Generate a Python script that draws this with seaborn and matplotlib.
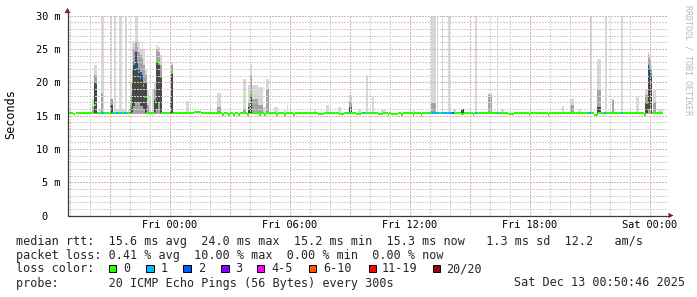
import numpy as np
import pandas as pd
import seaborn as sns
import matplotlib
matplotlib.use("Agg")
import matplotlib.pyplot as plt
from matplotlib.patches import Polygon, Rectangle

# ---------------- data (hours relative to Fri 00:00) ----------------
data_start, data_end = -5.10, 24.685
baseline_median = 15.35
smoke_floor = 15.2

# median overrides: start, end, value (ms), loss count category
med_t0 = [-4.85, -3.78, -3.69, -3.45, -2.95, -2.865, -2.70, -2.50, -2.30,
          -1.975, -1.90, -1.815, -1.735, -1.66, -1.58, -1.50, -1.42, -1.34, -1.26,
          -0.75, -0.665, -0.58, -0.495, 0.015, 0.08, 1.20,
          2.60, 2.90, 3.15, 3.40, 3.85, 3.95, 4.025, 4.45, 4.70, 5.30, 5.70, 6.15,
          7.40, 8.45, 8.95, 9.30, 9.68, 10.40, 10.90, 11.05, 11.55, 12.15, 12.55,
          13.05, 13.55, 14.10, 14.55, 15.15, 15.28, 16.35, 16.90, 17.95, 18.90,
          20.90, 21.20, 21.70, 22.55, 23.70, 23.80, 23.915, 24.01]
med_t1 = [-4.70, -3.69, -3.61, -3.30, -2.865, -2.80, -2.55, -2.40, -2.15,
          -1.90, -1.815, -1.735, -1.66, -1.58, -1.50, -1.42, -1.34, -1.26, -1.18,
          -0.665, -0.58, -0.495, -0.41, 0.08, 0.175, 1.55,
          2.70, 3.00, 3.25, 3.50, 3.95, 4.025, 4.10, 4.55, 4.80, 5.40, 5.80, 6.25,
          7.70, 8.70, 9.03, 9.55, 9.75, 10.65, 10.95, 11.40, 11.65, 12.20, 12.60,
          13.45, 14.10, 14.20, 14.70, 15.20, 15.35, 16.43, 17.20, 18.00, 18.95,
          21.05, 21.40, 21.80, 22.65, 23.80, 23.915, 24.01, 24.10]
med_val = [15.2, 16.6, 19.85, 15.35, 16.0, 15.35, 15.35, 15.35, 15.35,
           16.35, 20.25, 22.75, 24.0, 22.0, 21.5, 20.6, 20.85, 19.5, 17.75,
           17.25, 23.0, 22.75, 20.75, 17.15, 21.35, 15.5,
           15.15, 15.15, 15.15, 15.15, 15.15, 16.0, 18.0, 15.15, 15.15, 15.15, 15.15, 15.15,
           15.2, 15.2, 15.35, 15.2, 15.35, 15.2, 15.15, 15.2, 15.15, 15.15, 15.15,
           15.35, 15.35, 15.35, 15.2, 15.15, 15.35, 15.35, 15.2, 15.15, 15.15,
           15.35, 15.05, 15.35, 15.35, 15.15, 16.85, 22.0, 21.0]
med_loss = [0, 0, 0, 1, 1, 1, 1, 1, 1,
            0, 0, 1, 2, 1, 1, 1, 2, 0, 0,
            0, 0, 0, 0, 0, 0, 0,
            0, 0, 0, 0, 0, 0, 0, 0, 0, 0, 0, 0,
            0, 0, 1, 0, 1, 0, 0, 0, 0, 0, 0,
            1, 1, 2, 0, 0, 1, 1, 0, 0, 0,
            1, 0, 1, 1, 0, 0, 1, 1]

# single outlier pings reaching beyond the top of the graph
tall_t0 = [-3.43, -2.95, -2.78, -2.53, -2.25, 13.05, 13.35, 13.60, 13.93, 15.28, 16.35, 21.00, 21.78, 22.58]
tall_t1 = [-3.30, -2.88, -2.68, -2.40, -2.15, 13.33, 13.43, 13.68, 14.03, 15.35, 16.43, 21.10, 21.88, 22.68]
tall_top = 30.5

# low smoke bumps: start, end, mid-grey top, light-grey top (0 = none)
low_t0 = [-3.90, -3.55, -3.45, -2.68, -2.40, -2.10, -1.15, -1.05, -0.90, 0.80, 2.35, 3.65,
          4.125, 4.40, 4.65, 4.80, 5.20, 5.70, 5.85, 7.20, 7.80, 8.40, 9.40, 9.80, 10.10,
          10.55, 12.15, 13.05, 14.15, 15.925, 16.55, 19.60, 20.00, 20.40, 22.10, 23.30,
          24.175, 24.40]
low_t1 = [-3.80, -3.45, -3.35, -2.53, -2.25, -2.00, -1.05, -0.95, -0.80, 0.95, 2.55, 3.80,
          4.40, 4.65, 4.80, 4.975, 5.40, 5.80, 5.925, 7.30, 7.95, 8.55, 9.55, 9.90, 10.20,
          10.80, 12.25, 13.33, 14.30, 16.10, 16.70, 19.70, 20.20, 20.55, 22.20, 23.45,
          24.30, 24.65]
low_mid = [16.3, 0, 18.3, 0, 0, 0, 16.5, 0, 0, 0, 16.3, 16.0,
           17.5, 16.5, 0, 19.0, 0, 0, 0, 0, 0, 0, 0, 0, 0,
           0, 0, 16.8, 0, 18.0, 0, 0, 16.5, 0, 17.25, 0,
           17.0, 0]
low_max = [17.5, 15.9, 18.3, 16.0, 16.0, 16.0, 18.75, 17.7, 18.75, 17.1, 18.3, 20.5,
           19.5, 19.2, 16.3, 20.5, 16.2, 16.0, 16.5, 16.0, 16.5, 16.3, 16.0, 21.0, 17.75,
           15.8, 15.8, 16.8, 16.0, 18.3, 15.9, 16.4, 17.5, 15.9, 17.5, 17.75,
           18.75, 15.9]

# smoke around elevated medians: start, end, dark low, dark high, mid top, light top
spk_t0 = [-3.78, -2.98, -2.00, -1.90, -1.815, -1.735, -1.65, -1.565, -1.485, -1.40, -1.315, -1.235,
          -0.775, -0.675, -0.575, -0.475, 0.01, 0.075, 3.925, 4.025, 8.95, 14.55, 21.375,
          23.775, 23.90, 23.985, 24.065]
spk_t1 = [-3.63, -2.85, -1.90, -1.815, -1.735, -1.65, -1.565, -1.485, -1.40, -1.315, -1.235, -1.15,
          -0.675, -0.575, -0.475, -0.385, 0.075, 0.19, 4.025, 4.125, 9.10, 14.70, 21.575,
          23.90, 23.985, 24.065, 24.125]
spk_dlo = [15.3, 15.3, 15.3, 15.5, 16.5, 17.0, 17.0, 17.0, 16.5, 16.5, 16.0, 15.3,
           15.3, 16.0, 17.0, 15.3, 15.3, 15.3, 15.3, 15.3, 15.3, 15.3, 15.3,
           15.3, 16.0, 16.0, 15.3]
spk_dhi = [19.85, 16.5, 16.4, 20.3, 23.0, 24.5, 23.0, 22.0, 21.5, 21.0, 20.0, 19.8,
           17.3, 23.2, 22.8, 20.8, 17.2, 21.5, 16.2, 18.0, 16.2, 15.9, 16.25,
           16.8, 22.5, 22.0, 21.0]
spk_mid = [21.0, 17.5, 18.0, 22.0, 25.0, 26.0, 25.3, 24.5, 24.0, 23.5, 22.5, 21.0,
           19.0, 24.8, 24.5, 22.5, 18.0, 22.5, 17.0, 21.0, 17.0, 15.9, 18.75,
           18.0, 24.0, 23.5, 22.0]
spk_max = [22.5, 17.5, 20.0, 26.0, 26.2, 30.5, 30.5, 26.2, 25.0, 26.0, 25.0, 22.0,
           20.0, 25.5, 25.3, 24.0, 20.0, 23.0, 19.5, 22.7, 18.0, 15.9, 23.4,
           19.0, 24.5, 24.0, 22.5]

loss_labels = ["0", "1", "2", "3", "4-5", "6-10", "11-19", "20/20"]
loss_colors = ["#26ff00", "#00b8ff", "#0059ff", "#7e00ff", "#ff00ff", "#ff5500", "#ff0000", "#a10000"]

x_tick_hours = [0, 6, 12, 18, 24]
x_tick_labels = ["Fri 00:00", "Fri 06:00", "Fri 12:00", "Fri 18:00", "Sat 00:00"]
y_ticks = [0, 5, 10, 15, 20, 25, 30]
y_tick_labels = ["0  ", "5 m", "10 m", "15 m", "20 m", "25 m", "30 m"]

legend_row1 = "median rtt:  15.6 ms avg  24.0 ms max  15.2 ms min  15.3 ms now   1.3 ms sd  12.2   am/s"
legend_row2 = "packet loss: 0.41 % avg  10.00 % max  0.00 % min  0.00 % now"
legend_row4 = "probe:       20 ICMP Echo Pings (56 Bytes) every 300s"
stamp = "Sat Dec 13 00:50:46 2025"

# ---------------- style ----------------
W, H = 697, 297
sns.set_theme(style="white")
plt.rcParams['font.family'] = ['DejaVu Sans Mono', 'DejaVu Sans']
MONO = 'DejaVu Sans Mono'

LIGHT, MID, DARK = "#d8d8d8", "#a4a4a4", "#484848"
AXIS_C, ARROW_C = "#3a3a3a", "#8a1f1f"
MGRID_C, GRID_C = "#deb2b2", "#d0d0d0"

fig = plt.figure(figsize=(W / 100, H / 100), dpi=100)
fig.patch.set_facecolor("white")
ax = fig.add_axes([67.5 / W, (H - 215.5) / H, 600 / W, 200 / H])
ax.set_facecolor("white")
ax.set_xlim(-5.1, 24.9)
ax.set_ylim(0, 30)
for s in ax.spines.values():
    s.set_visible(False)


def bars(t0, t1, lo, hi, color, z):
    t0 = np.asarray(t0, float)
    t1 = np.asarray(t1, float)
    lo = np.broadcast_to(np.asarray(lo, float), t0.shape)
    hi = np.broadcast_to(np.asarray(hi, float), t0.shape)
    ax.bar(x=t0, height=hi - lo, width=t1 - t0, bottom=lo, align="edge",
           color=color, linewidth=0, zorder=z)


# smoke
bars(tall_t0, tall_t1, smoke_floor, tall_top, LIGHT, 1)

low = pd.DataFrame({"t0": low_t0, "t1": low_t1, "mid": low_mid, "mx": low_max})
bars(low.t0, low.t1, smoke_floor, low.mx, LIGHT, 1.1)
lm = low[low.mid > 0]
bars(lm.t0, lm.t1, smoke_floor, lm.mid, MID, 1.2)

spk = pd.DataFrame({"t0": spk_t0, "t1": spk_t1, "dlo": spk_dlo, "dhi": spk_dhi,
                    "mid": spk_mid, "mx": spk_max})
bars(spk.t0, spk.t1, smoke_floor, spk.mx, LIGHT, 1.1)
bars(spk.t0, spk.t1, smoke_floor, spk.mid, MID, 1.2)
bars(spk.t0, spk.t1, spk.dlo, spk.dhi, DARK, 1.3)

# grid (dotted, 1px)
for v in range(1, 31):
    major = v % 5 == 0
    ax.axhline(v, color=MGRID_C if major else GRID_C, lw=1.0, ls=(0, (1, 1.4)),
               zorder=2, antialiased=False)
for h in range(-5, 25):
    major = h % 3 == 0
    ax.axvline(h, color=MGRID_C if major else GRID_C, lw=1.0, ls=(0, (1, 1.4)),
               zorder=2, antialiased=False)

# median line segments coloured by loss
segs = []
cur = data_start
for a, b, v, l in sorted(zip(med_t0, med_t1, med_val, med_loss)):
    if a > cur:
        segs.append((cur, a, baseline_median, 0))
    segs.append((a, b, v, l))
    cur = max(cur, b)
if cur < data_end:
    segs.append((cur, data_end, baseline_median, 0))
med = pd.DataFrame(segs, columns=["t0", "t1", "val", "loss"])
ax.bar(x=med.t0, height=0.32, width=med.t1 - med.t0, bottom=med.val - 0.16, align="edge",
       color=[loss_colors[l] for l in med.loss], linewidth=0, zorder=3)

# axes lines & arrows
ax.plot([-5.1, 24.96], [0, 0], color=AXIS_C, lw=0.9, clip_on=False, zorder=5)
ax.plot([-5.1, -5.1], [0, 30.4], color=AXIS_C, lw=0.9, clip_on=False, zorder=5)
ax.add_patch(Polygon([[-5.25, 30.35], [-4.95, 30.35], [-5.1, 31.15]], closed=True,
                     color=ARROW_C, clip_on=False, zorder=6, lw=0))
ax.add_patch(Polygon([[24.95, -0.4], [24.95, 0.4], [25.2, 0]], closed=True,
                     color=ARROW_C, clip_on=False, zorder=6, lw=0))

# ticks
ax.set_xticks(x_tick_hours)
ax.set_xticklabels(x_tick_labels, fontfamily=MONO, fontsize=7.4)
ax.set_yticks(y_ticks)
ax.set_yticklabels(y_tick_labels, fontfamily=MONO, fontsize=7.4)
ax.tick_params(axis="x", length=0, pad=3.2, colors="black")
ax.tick_params(axis="y", length=0, pad=5.0, colors="black")
ax.grid(False)


def fx(x):
    return x / W


def fy(y):
    return 1 - y / H


fig.text(fx(10.5), fy(114), "Seconds", rotation=90, ha="center", va="center",
         fontfamily=MONO, fontsize=8.47, color="black")
fig.text(fx(688), fy(60), "RRDTOOL / TOBI OETIKER", rotation=270, ha="center", va="center",
         fontfamily=MONO, fontsize=6.0, color="#b8b8b8")

LS = 8.47
fig.text(fx(16), fy(244.5), legend_row1, ha="left", va="baseline", fontfamily=MONO, fontsize=LS)
fig.text(fx(16), fy(258.5), legend_row2, ha="left", va="baseline", fontfamily=MONO, fontsize=LS)
fig.text(fx(16), fy(272.5), "loss color:", ha="left", va="baseline", fontfamily=MONO, fontsize=LS)
fig.text(fx(16), fy(286.5), legend_row4, ha="left", va="baseline", fontfamily=MONO, fontsize=LS)
fig.text(fx(685), fy(286.5), stamp, ha="right", va="baseline", fontfamily=MONO, fontsize=LS)

sq_x = [108.5, 146, 183.5, 221, 256.5, 308.5, 368.5, 432.5]
lab_x = [123.5, 161, 198, 235.5, 271, 323.5, 381.5, 446.5]
for sx, lx, lab, col in zip(sq_x, lab_x, loss_labels, loss_colors):
    fig.add_artist(Rectangle((fx(sx), fy(272)), 7.5 / W, 7.5 / H, transform=fig.transFigure,
                             facecolor=col, edgecolor="black", lw=0.72))
    fig.text(fx(lx), fy(272.5), lab, ha="left", va="baseline", fontfamily=MONO, fontsize=LS)

fig.savefig("out.png", dpi=100, facecolor="white")
